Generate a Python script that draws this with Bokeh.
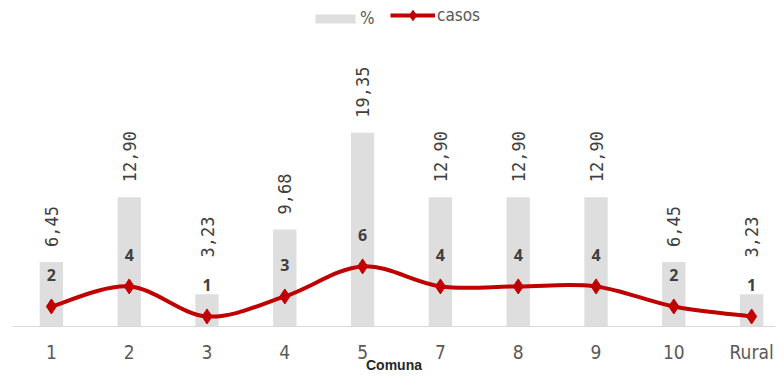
import numpy as np
from bokeh.plotting import figure
from bokeh.models import (ColumnDataSource, FixedTicker, Range1d, Legend, LegendItem)
from bokeh.core.properties import value
from bokeh.embed import file_html
from bokeh.resources import INLINE

# ---- data ----
comunas = ["1", "2", "3", "4", "5", "7", "8", "9", "10", "Rural"]
porcentaje = [6.45, 12.90, 3.23, 9.68, 19.35, 12.90, 12.90, 12.90, 6.45, 3.23]
casos = [2, 4, 1, 3, 6, 4, 4, 4, 2, 1]
pct_labels = ["6,45", "12,90", "3,23", "9,68", "19,35", "12,90", "12,90", "12,90", "6,45", "3,23"]
x_title = "Comuna"

xs = list(range(len(comunas)))

BAR_COLOR = "#DEDEDE"
LINE_COLOR = "#C00000"
NARROW = "DejaVu Sans Condensed"

p = figure(width=775, height=375, output_backend="svg", toolbar_location=None,
           x_range=Range1d(-0.5, 9.307), y_range=Range1d(0, 32.54),
           y_axis_location=None, min_border_left=12, min_border_right=0,
           min_border_top=0, min_border_bottom=47)
p.outline_line_color = None
p.xgrid.grid_line_color = None
p.ygrid.grid_line_color = None

# percentage labels sit above the bar, or above the casos label when the bar is short
pct_label_y = np.maximum(np.array(porcentaje), np.array(casos) + 4.4)

src = ColumnDataSource(dict(x=xs, pct=porcentaje, casos=casos, lab=pct_labels,
                            laby=pct_label_y, clab=[str(c) for c in casos]))

bars = p.vbar(x="x", top="pct", width=0.3, source=src, fill_color=BAR_COLOR,
              line_color=None)

# smoothed line (Catmull-Rom style bezier through the data points)
px = np.array(xs, dtype=float)
py = np.array(casos, dtype=float)
prev_x = np.concatenate([[px[0]], px[:-1]])
prev_y = np.concatenate([[py[0]], py[:-1]])
next_x = np.concatenate([px[1:], [px[-1]]])
next_y = np.concatenate([py[1:], [py[-1]]])
tx = (next_x - prev_x) / 6.0
ty = (next_y - prev_y) / 6.0
bez = p.bezier(x0=px[:-1], y0=py[:-1], x1=px[1:], y1=py[1:],
               cx0=px[:-1] + tx[:-1], cy0=py[:-1] + ty[:-1],
               cx1=px[1:] - tx[1:], cy1=py[1:] - ty[1:],
               line_color=LINE_COLOR, line_width=4)
pts = p.scatter(x="x", y="casos", source=src, marker="diamond", size=15,
                fill_color=LINE_COLOR, line_color=LINE_COLOR)

# percentage labels (vertical)
p.text(x="x", y="laby", text="lab", source=src, angle=np.pi / 2,
       text_align="left", text_baseline="middle", y_offset=-15,
       text_font=value("DejaVu Sans Mono"), text_font_size="17px",
       text_color="#404040")
# casos labels
p.text(x="x", y="casos", text="clab", source=src, text_align="center",
       text_baseline="middle", y_offset=-31, text_font=value("Open Sans"),
       text_font_style="bold", text_font_size="16px", text_color="#404040")

# axis
ax = p.xaxis[0]
ax.ticker = FixedTicker(ticks=xs)
ax.major_label_overrides = {i: c for i, c in zip(xs, comunas)}
ax.major_tick_line_color = None
ax.minor_tick_line_color = None
ax.axis_line_color = "#D9D9D9"
ax.major_label_text_font = NARROW
ax.major_label_text_font_size = "19px"
ax.major_label_text_color = "#595959"
ax.major_label_standoff = 8
ax.axis_label = x_title
ax.axis_label_text_font = "Liberation Sans"
ax.axis_label_text_font_style = "bold"
ax.axis_label_text_font_size = "14px"
ax.axis_label_text_color = "#262626"
ax.axis_label_standoff = -9

common = dict(orientation="horizontal", margin=0, padding=0,
              border_line_color=None, background_fill_alpha=0,
              label_text_font=NARROW, label_text_font_size="17px",
              label_text_color="#595959")
leg_pct = Legend(items=[LegendItem(label="%", renderers=[bars])],
                 location=(298, 298), glyph_width=50, glyph_height=11,
                 label_standoff=0, **common)
leg_casos = Legend(items=[LegendItem(label="casos", renderers=[bez, pts])],
                   location=(378, 298), glyph_width=45, glyph_height=26,
                   label_standoff=2, **common)
p.add_layout(leg_pct)
p.add_layout(leg_casos)

open("out.html", "w").write(file_html(p, INLINE))
